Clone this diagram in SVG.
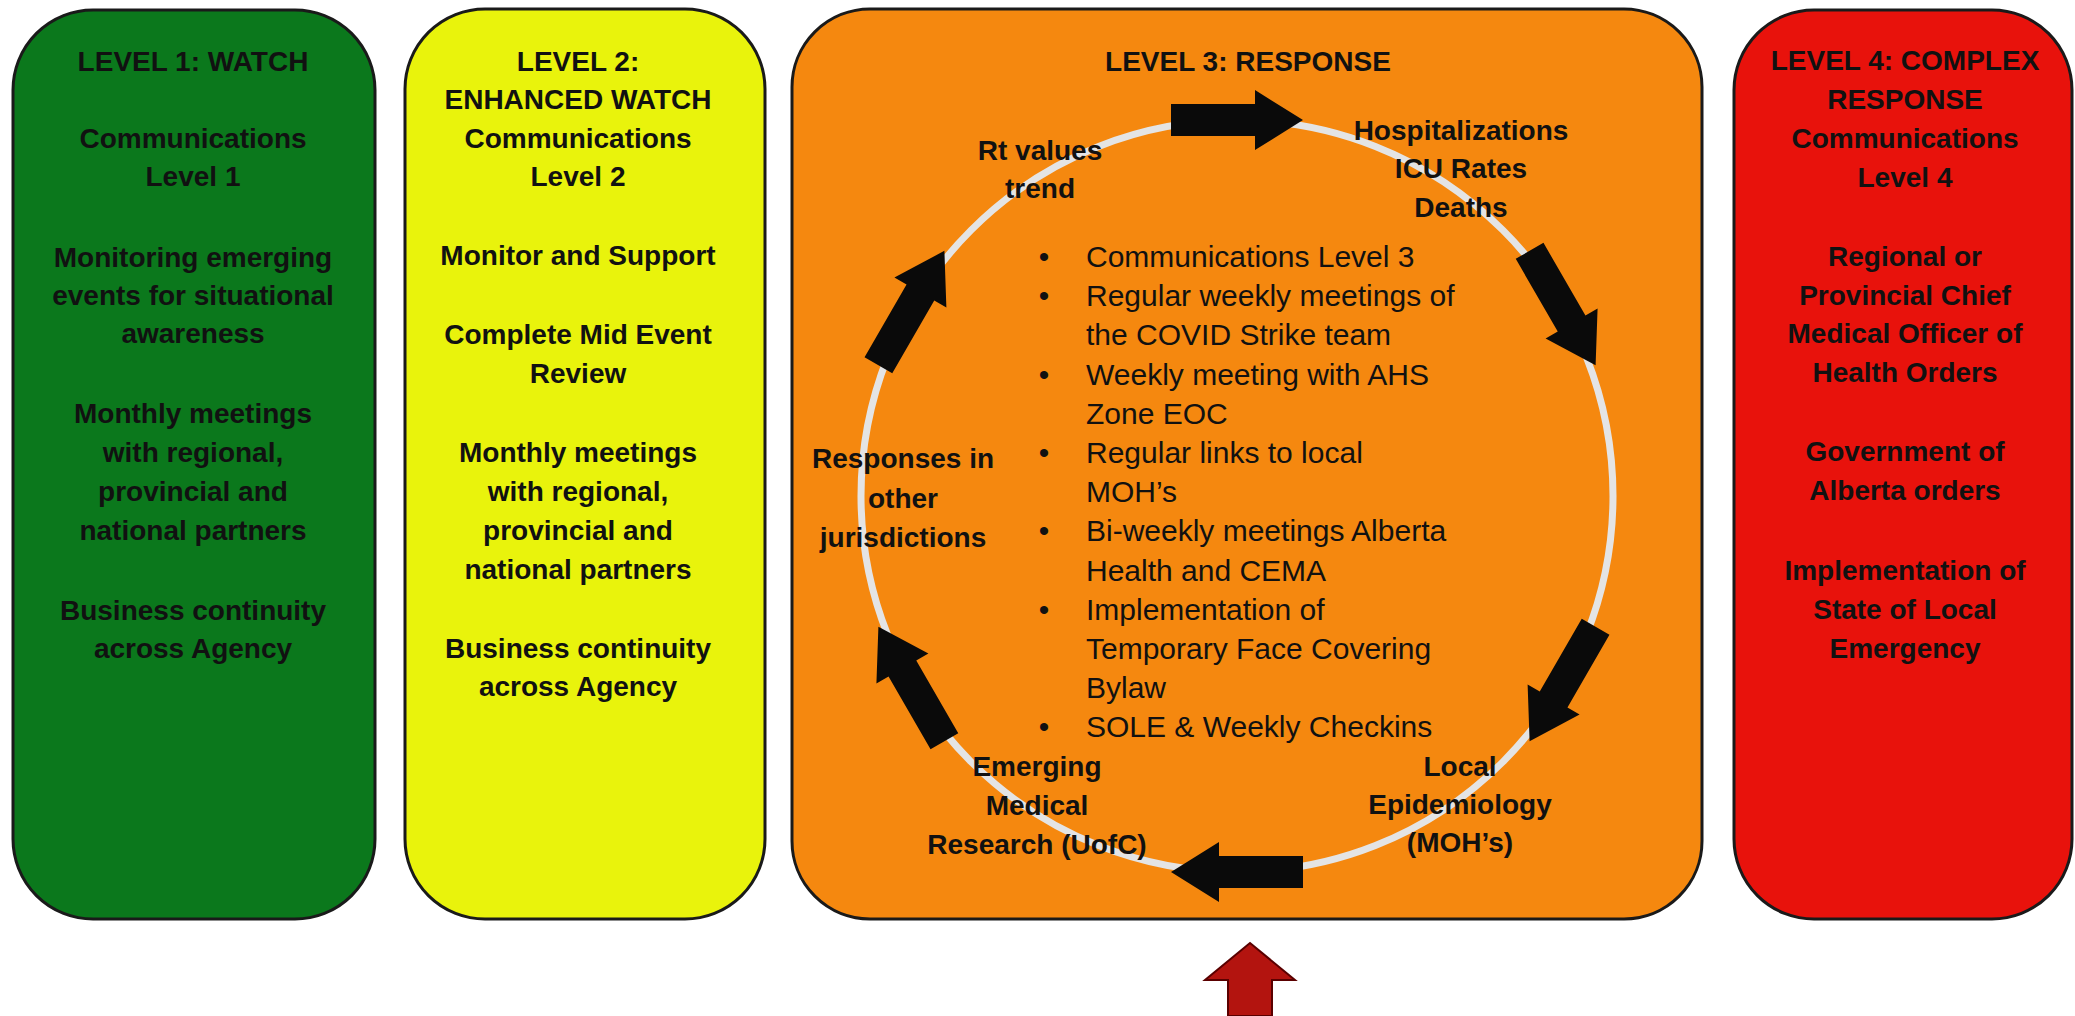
<svg xmlns="http://www.w3.org/2000/svg" width="2075" height="1016" viewBox="0 0 2075 1016">
<style>
  .box { stroke: #1a1a1a; stroke-width: 3; }
  .t { font-family: "Liberation Sans", Arial, sans-serif; font-size: 28px; font-weight: bold; fill: #111; text-anchor: middle; }
  .b { font-family: "Liberation Sans", Arial, sans-serif; font-size: 30px; fill: #111; }
  .dot { font-family: "Liberation Sans", Arial, sans-serif; font-size: 30px; fill: #111; text-anchor: middle; }
  .ring { fill: none; stroke: #e4e4e4; stroke-width: 7; }
  .blk { fill: #0a0a0a; }
  .red { fill: #b3140f; stroke: #5a0000; stroke-width: 2; }
</style>
<defs>
  <path id="blockArrow" d="M-66,-16 L18,-16 L18,-30 L66,0 L18,30 L18,16 L-66,16 Z"/>
</defs>
<rect width="2075" height="1016" fill="#ffffff"/>

<g id="level1">
  <rect class="box" x="13" y="10" width="362" height="909" rx="80" ry="80" fill="#0b781c"/>
  <text class="t" x="193" y="71">LEVEL 1: WATCH</text>
  <text class="t" x="193" y="148">Communications</text>
  <text class="t" x="193" y="186">Level 1</text>
  <text class="t" x="193" y="267">Monitoring emerging</text>
  <text class="t" x="193" y="305">events for situational</text>
  <text class="t" x="193" y="343">awareness</text>
  <text class="t" x="193" y="423">Monthly meetings</text>
  <text class="t" x="193" y="462">with regional,</text>
  <text class="t" x="193" y="501">provincial and</text>
  <text class="t" x="193" y="540">national partners</text>
  <text class="t" x="193" y="620">Business continuity</text>
  <text class="t" x="193" y="658">across Agency</text>
</g>

<g id="level2">
  <rect class="box" x="405" y="9" width="360" height="910" rx="80" ry="80" fill="#e9f30c"/>
  <text class="t" x="578" y="71">LEVEL 2:</text>
  <text class="t" x="578" y="109">ENHANCED WATCH</text>
  <text class="t" x="578" y="148">Communications</text>
  <text class="t" x="578" y="186">Level 2</text>
  <text class="t" x="578" y="265">Monitor and Support</text>
  <text class="t" x="578" y="344">Complete Mid Event</text>
  <text class="t" x="578" y="383">Review</text>
  <text class="t" x="578" y="462">Monthly meetings</text>
  <text class="t" x="578" y="501">with regional,</text>
  <text class="t" x="578" y="540">provincial and</text>
  <text class="t" x="578" y="579">national partners</text>
  <text class="t" x="578" y="658">Business continuity</text>
  <text class="t" x="578" y="696">across Agency</text>
</g>

<g id="level3">
  <rect class="box" x="792" y="9" width="910" height="910" rx="78" ry="78" fill="#f5880f"/>
  <text class="t" x="1248" y="71">LEVEL 3: RESPONSE</text>
</g>

<g id="connectors">
  <circle class="ring" cx="1237" cy="496" r="376"/>
  <use href="#blockArrow" class="blk" transform="translate(1237,120)"/>
  <use href="#blockArrow" class="blk" transform="translate(1562.6,308) rotate(60)"/>
  <use href="#blockArrow" class="blk" transform="translate(1562.6,684) rotate(120)"/>
  <use href="#blockArrow" class="blk" transform="translate(1237,872) rotate(180)"/>
  <use href="#blockArrow" class="blk" transform="translate(911.4,684) rotate(240)"/>
  <use href="#blockArrow" class="blk" transform="translate(911.4,308) rotate(300)"/>
  <polygon class="red" points="1250,943 1295,980 1272,980 1272,1016 1228,1016 1228,980 1205,980"/>
</g>

<g id="rt-values">
  <text class="t" x="1040" y="160">Rt values</text>
  <text class="t" x="1040" y="198">trend</text>
</g>
<g id="hospitalizations">
  <text class="t" x="1461" y="140">Hospitalizations</text>
  <text class="t" x="1461" y="178">ICU Rates</text>
  <text class="t" x="1461" y="217">Deaths</text>
</g>
<g id="local-epidemiology">
  <text class="t" x="1460" y="776">Local</text>
  <text class="t" x="1460" y="814">Epidemiology</text>
  <text class="t" x="1460" y="852">(MOH’s)</text>
</g>
<g id="emerging-research">
  <text class="t" x="1037" y="776">Emerging</text>
  <text class="t" x="1037" y="815">Medical</text>
  <text class="t" x="1037" y="854">Research (UofC)</text>
</g>
<g id="other-jurisdictions">
  <text class="t" x="903" y="468">Responses in</text>
  <text class="t" x="903" y="508">other</text>
  <text class="t" x="903" y="547">jurisdictions</text>
</g>

<g id="level3-actions">
  <text class="dot" x="1044" y="267">•</text>
  <text class="b" x="1086" y="267">Communications Level 3</text>
  <text class="dot" x="1044" y="306">•</text>
  <text class="b" x="1086" y="306">Regular weekly meetings of</text>
  <text class="b" x="1086" y="345">the COVID Strike team</text>
  <text class="dot" x="1044" y="385">•</text>
  <text class="b" x="1086" y="385">Weekly meeting with AHS</text>
  <text class="b" x="1086" y="424">Zone EOC</text>
  <text class="dot" x="1044" y="463">•</text>
  <text class="b" x="1086" y="463">Regular links to local</text>
  <text class="b" x="1086" y="502">MOH’s</text>
  <text class="dot" x="1044" y="541">•</text>
  <text class="b" x="1086" y="541">Bi-weekly meetings Alberta</text>
  <text class="b" x="1086" y="581">Health and CEMA</text>
  <text class="dot" x="1044" y="620">•</text>
  <text class="b" x="1086" y="620">Implementation of</text>
  <text class="b" x="1086" y="659">Temporary Face Covering</text>
  <text class="b" x="1086" y="698">Bylaw</text>
  <text class="dot" x="1044" y="737">•</text>
  <text class="b" x="1086" y="737">SOLE &amp; Weekly Checkins</text>
</g>

<g id="level4">
  <rect class="box" x="1734" y="10" width="338" height="909" rx="80" ry="80" fill="#e8120c"/>
  <text class="t" x="1905" y="70">LEVEL 4: COMPLEX</text>
  <text class="t" x="1905" y="109">RESPONSE</text>
  <text class="t" x="1905" y="148">Communications</text>
  <text class="t" x="1905" y="187">Level 4</text>
  <text class="t" x="1905" y="266">Regional or</text>
  <text class="t" x="1905" y="305">Provincial Chief</text>
  <text class="t" x="1905" y="343">Medical Officer of</text>
  <text class="t" x="1905" y="382">Health Orders</text>
  <text class="t" x="1905" y="461">Government of</text>
  <text class="t" x="1905" y="500">Alberta orders</text>
  <text class="t" x="1905" y="580">Implementation of</text>
  <text class="t" x="1905" y="619">State of Local</text>
  <text class="t" x="1905" y="658">Emergency</text>
</g>
</svg>
